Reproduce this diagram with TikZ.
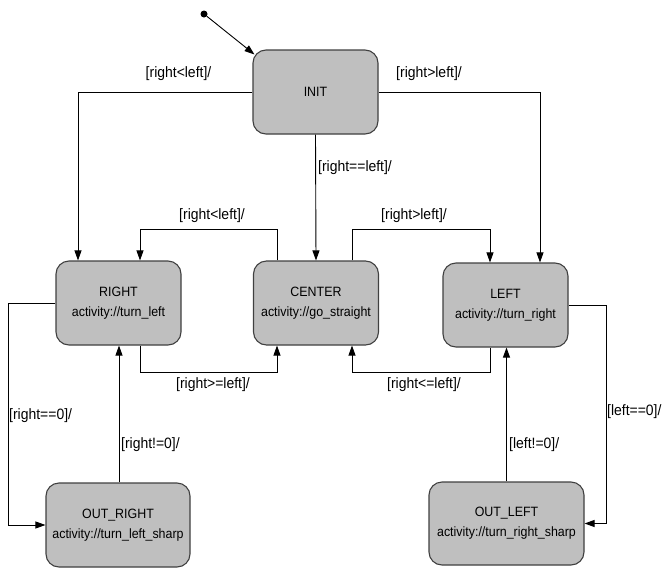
\documentclass[tikz,border=0pt]{standalone}
\usepackage{fontspec}
\setmainfont{Liberation Sans}
\newfontfamily\statefont[FakeStretch=0.92]{Liberation Sans}
\newfontfamily\guardfont[FakeStretch=0.93]{Liberation Sans}
\usetikzlibrary{arrows.meta}
\begin{document}
\begin{tikzpicture}[x=1pt,y=-1pt,
  state/.style={draw=black!75, line width=1.1pt, fill=black!25,
    rounded corners=13pt, minimum width=125pt, minimum height=84pt,
    align=center, inner sep=0pt, font=\statefont\fontsize{13.5}{20}\selectfont},
  trans/.style={line width=0.9pt, -{Triangle[length=10pt,width=7pt]}},
  guard/.style={inner sep=0pt, font=\guardfont\fontsize{15}{17}\selectfont}]
\useasboundingbox (0,0) rectangle (662,568);

% states
\node[state] (init)   at (315.5,92)  {INIT};
\node[state] (right)  at (118.5,303) {RIGHT\\activity://turn\_left};
\node[state] (center) at (316,303)   {CENTER\\activity://go\_straight};
\node[state] (left)   at (505.5,305) {LEFT\\activity://turn\_right};
\node[state, minimum width=144pt] (outright) at (118,525)   {OUT\_RIGHT\\activity://turn\_left\_sharp};
\node[state, minimum width=155pt, minimum height=83pt] (outleft) at (506.5,523.5) {OUT\_LEFT\\activity://turn\_right\_sharp};

% initial pseudo-state
\node[circle, fill=black, inner sep=0pt, minimum size=7pt] (start) at (204,14) {};
\draw[trans] (start) -- ([xshift=2pt,yshift=-5pt]init.north west);

% transitions out of INIT
\draw[trans] (init.west) -| ([xshift=-40.5pt]right.north);
\draw[trans] (init.east) -| ([xshift=34.5pt]left.north);
\draw[trans] (init.south) -- (center.north);

% transitions between the three driving states
\draw[trans] ([xshift=-39pt]center.north) -- ++(0,-31) -| ([xshift=21.5pt]right.north);
\draw[trans] ([xshift=36pt]center.north) -- ++(0,-31) -| ([xshift=-15.5pt]left.north);
\draw[trans] ([xshift=21.5pt]right.south) -- ++(0,27) -| ([xshift=-39pt]center.south);
\draw[trans] ([xshift=-15.5pt]left.south) -- ++(0,25) -| ([xshift=36pt]center.south);

% sharp turns
\draw[trans] (right.west) -- ++(-47,0) |- (outright.west);
\draw[trans] (left.east) -- ++(38,0) |- (outleft.east);
\draw[trans] ([xshift=1pt]outright.north) -- ([xshift=1pt]outright.north |- right.south);
\draw[trans] (outleft.north) -- (outleft.north |- left.south);

% guards
\node[guard] (g1) at (178.5,74)  {[right<left]/};
\node[guard] (g2) at (429,74)  {[right>left]/};
\node[guard, anchor=west] (g3) at (318,168) {[right==left]/};
\node[guard] (g4) at (212,216) {[right<left]/};
\node[guard] (g5) at (414,216) {[right>left]/};
\node[guard] (g6) at (213,385) {[right>=left]/};
\node[guard] (g7) at (424,385) {[right<=left]/};
\node[guard, anchor=west] (g8) at (9,416) {[right==0]/};
\node[guard, anchor=west] (g9) at (121,445) {[right!=0]/};
\node[guard, anchor=west] (g10) at (509,445) {[left!=0]/};
\node[guard, anchor=west] (g11) at (607,412) {[left==0]/};
\end{tikzpicture}
\end{document}
